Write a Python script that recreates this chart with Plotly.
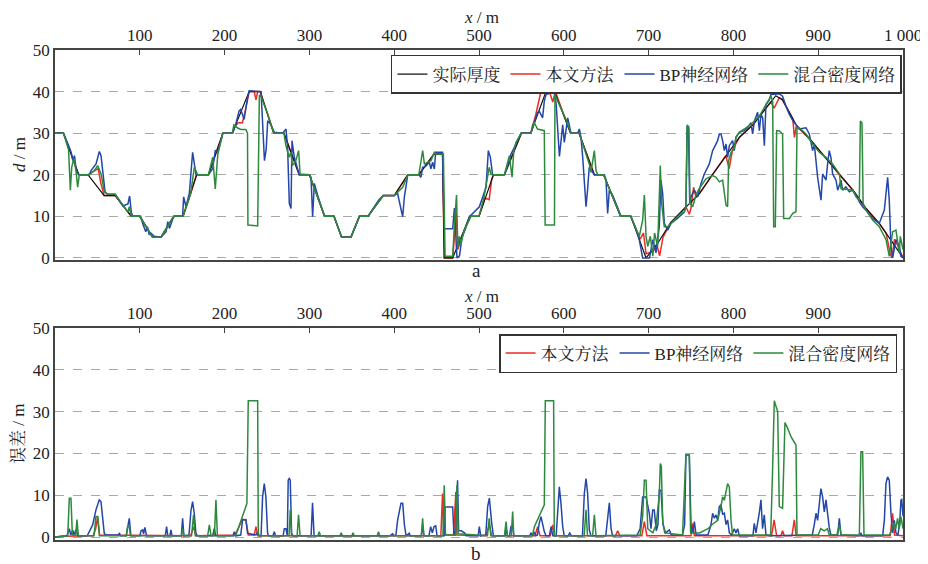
import plotly.graph_objects as go

# ---------------- data ----------------
act_x = [0,10,28,39,58,71,90,100,115,125,140,151,167,181,198,209,229,242,258,270,288,300,318,329,338,349,359,369,387,400,416,429,447,457,459,469,489,500,517,530,550,561,579,589,608,618,636,647,667,679,697,711,726,744,760,776,791,807,823,838,850,858,874,890,909,925,941,956,972,988,998,1000]
act_y = [30,30,20,20,15,15,10,10,5,5,10,10,20,20,30,30,40,40,30,30,20,20,10,10,5,5,10,10,15,15,20,20,25,25,0,0,10,10,20,20,30,30,40,40,30,30,20,20,10,10,0,3.6,8.5,12.3,15.5,20.2,24.6,29,32,36,39,38,32,28.6,24,20,16.3,12,8.3,3.6,0.4,0]

red_x = [0,10,28,39,51,54,58,71,90,100,115,125,140,151,160,167,181,198,209,212,216,221,224,229,235,237,239,242,258,270,288,300,318,329,338,349,359,369,387,400,416,429,447,457,459,469,471,473,475,479,489,500,507,512,515,517,530,550,561,567,573,583,587,590,608,618,636,647,667,679,690,694,697,705,710,713,717,726,744,748,750,753,756,760,776,791,795,799,807,823,838,844,848,854,857,870,872,874,878,890,909,925,941,956,972,980,985,987,990,995,1000]
red_y = [30,30,20,20,21.5,18,15,15,10,10,5,5,10,10,15.5,20,20,30,30,31.5,32.5,32.5,35,40,40,38,40,40,30,30,20,20,10,10,5,5,10,10,15,15,20,20,25,25,0,0,5,11,2,4.5,10,10,14.4,14,19,20,20,30,30,34.5,40,40,37.5,40,30,30,20,20,10,10,4.5,6,1,1.5,3,0.5,5,8.5,12.3,10.5,12,17,14.5,15.5,20.2,24.6,21.5,26,29,32,36,37.5,36,38.5,38.3,33.5,29,31.5,31,28.6,24,20,16.3,12,8.3,6,1,0,4.5,2.5,0]

bp_x = [0,10,16,19,21,23,25,28.7,40.5,42.5,48.4,52.3,54.3,57.4,59,62,71,80,86,88,90,91.6,101,103.4,107,109,111,113,117,125,131,133,135,139,141,150.5,151.7,154.5,158.4,162.3,164.3,166.3,181,186,189,192,198,209.5,213,217,219,223,227,229,243,245,247,249,250.8,254.7,258.6,268.4,272.4,274.3,276.3,278.3,279.5,282.2,286.1,288,300,301.9,303.8,305.8,309.7,313.6,317.6,329,338,349,359,369,382,387,400,404,408,410,412,416,429,431.5,433.5,437,441.4,443.3,445.3,447.3,449,457,459,469,471,474,477,480,484,489,500.4,504.4,508.3,511,513.4,516,530,533.8,537.8,541.7,549.6,561.3,565.3,569,571,575,577,579,589,591,594.8,598.7,600.6,604.6,608.5,616.4,618.3,620.3,622.3,624.2,626.2,628,630,634,636,647.8,649.8,651.7,653.7,657.6,663.5,667.5,679,685,689,693,701,705,708.7,712.6,714.6,716.6,718.5,722.5,726.4,734,742,744,745.5,747,748.5,750,754,757.9,761.8,765.7,771.6,775.5,777.5,781.4,783.4,785.4,787.3,789.3,791.3,793.2,795.2,799.1,801,803,807,812.9,816.8,820.7,822.7,824.7,828.6,830.6,832.5,834.5,836.5,838.4,842.4,844.3,854,858,862,866,870,877.7,885.6,889.5,893.4,895.4,899.3,901.3,903.3,905.2,909.2,911.1,913,915,917,921,923,926.9,928.8,932.7,936.7,940.6,944.5,948.5,952.4,956.3,964.2,972,978,981.9,983.8,985.8,987.8,991.7,995.6,997.6,1000]
bp_y = [30,30,27,25.4,23.4,24.6,21,20,20,21,22.6,25.6,24.6,19.4,15.9,15.3,15.3,12.5,13,14.9,11,10,10,8.3,6.3,7.5,5.6,6,5.2,5,6.3,8.7,7.1,9.5,10,10,14.7,12.3,15.5,25.4,22.6,20,20,21.5,25.8,25.5,30,30,32,35.3,35.7,33.3,38.4,40.2,40,30,23.4,26,33,32,30.2,30,31,26.6,13.1,11.9,28.2,24.2,21,20,20,19.4,9.9,17.9,15.1,12.3,10,10,5,5,10,10,14,15,15,15.5,11.5,9.9,14.7,20,20,19.4,21.8,22,23,21.4,23,21.4,25.4,25.4,7,7,12,0,0.5,5,7,10,12.3,14.7,17,25.8,24.2,20,20,22.2,25,26.6,30,30,32.9,35,35.3,33.7,37.7,39.3,40,37,24.4,32,27.8,33.7,30,30,31,29,24.2,18.7,12.3,16.3,21.8,20.6,20,20,18.7,10.7,16.3,15.1,12.3,10,10,7,4.4,0,0,4.4,1.2,7.5,18.7,15.5,8.3,6.7,8.3,9.5,11,12.3,31.7,31,13,14.7,16.3,14.7,17.9,20.2,22.6,25.8,26.6,28.2,29.8,29.8,28.2,25.8,27.4,24.2,27,28.2,25.8,29,30.2,30.6,31.3,32.5,29.8,32.9,35,30.6,34.5,33.7,27,36.9,38,39.3,39.5,38.9,36.5,34.5,33,31,31.3,29.8,25.8,27.4,19.4,16.3,13.9,20.2,18.7,22.6,25.8,24.2,20.2,18.7,16.3,18.7,16.3,17.1,15.9,16.3,15.1,13.5,12.3,11.5,9.5,8.3,11.5,19.4,13.9,2.8,0,4.4,2.8,0.4,0.3]

mdn_x = [0,10,16,17,18.1,19.7,22,24.8,26.7,28.7,40.5,46.4,50.3,54.3,58.2,62,71,86,87.6,90,100,115,125,140,151,160,164.3,168.2,181,186,189,192,198,209,211,215,219,225,227,227.5,239,241,243,251,258,270,272,276,278,280,284,287.3,289,300,318,329,338,349,359,369,387,400,410,416,429,433.6,435.6,443.4,447.3,449.4,457,458,460,469,471,473.5,475,476.8,478.7,482.6,486.6,490.5,500,506,512,514,516,530,533.8,535.8,539,541,543.7,549.6,561.3,563.3,565.3,569,577,578,589,589.6,592.8,602.6,608.5,618.3,630,632,636,638,640,647,667,679,689,693,695,697,699,702,705,707,710.7,712.6,713.8,715.4,718.5,722.5,730.3,738,742,744,745.5,747.5,748.8,752,755.9,759.8,767.7,775.5,779.5,783.4,787.3,789.3,791.3,793.2,794.4,797.2,801,803,807,814.8,822.7,830.6,838.4,844.3,846.3,847.5,849.4,851,854,858,859.3,866,870,873.8,875,877.7,885.6,893.4,901.3,909.2,917,925,926.9,940.6,944.5,948.5,949.7,951.6,953,956.3,964.2,972,980,983.8,987.8,991.7,995.6,996.8,1000]
mdn_y = [30,30,26,20.2,16.3,21.8,23.8,21,17,20,20,21,22.2,20.2,15.9,15.3,15.3,11,12.3,10,10,5,5,10,10,15.5,21.8,20,20,24.2,16.6,25,30,30,32,31.3,30.9,30.9,30,7.9,7.7,39.2,38.8,34.5,30,30,27.3,24.2,25.4,22.2,23.4,25.8,20.2,20,10,10,5,5,10,10,15,15,17,20,20,25.8,22.6,23.4,25.4,25,25,25,0.4,0.4,8,15.1,2.4,5.2,3.6,6.7,8.3,10,10,14.7,21.8,20.2,20,20,23,24.6,19.4,25.8,27.8,30,30,32,32.5,31,30.6,7.9,7.9,39.3,37.7,33.3,30,30,22.6,20.6,25.8,21,20,20,10,10,5.2,9.1,15.1,5.2,2.8,5.2,0.4,6,2.8,15.5,22.2,13.1,7.5,7.5,9.1,10.7,11,12.3,32,31.5,13.1,12.3,15.1,16.7,19,19.8,19.4,18.3,18.7,15.1,12.7,12.3,23.4,25.4,26.2,29,30.2,31.3,32.5,34.1,36.9,38.9,37.7,7.5,7.5,30.6,30.6,29.8,9.5,9.5,10.7,11.1,31.3,31.3,29.8,27.4,25.4,24.2,22.6,20.2,16.7,16.3,14.7,13.9,32.9,32.5,13.1,11.5,9.1,7.5,4.4,0.4,6.3,6.7,1.2,5.2,2]

# errors (bottom panel)
er_red_x = [0,10,45,48,50.3,52.5,160,163.4,166,212,216,221,225,228,235,237,239,455,457,458.5,470,472.7,474,508,512.2,515,566,569.2,572,584,586.9,589,661,663.5,666,692,695,698,750,752,754,845,848,851,856,858,860,869,871.8,874,985,987.7,990,1000]
er_red_y = [0,0.2,0.3,2,4.9,0.5,0.3,2.5,0.3,0.5,2,4.3,4,0.5,0.5,2.5,0.3,0.3,10.4,0.5,0.5,10.8,0.5,0.3,2.9,0.3,0.3,2.5,0.3,0.3,2.9,0.3,0.3,1.5,0.3,0.3,3.7,0.3,0.3,3.3,0.3,0.3,4.1,0.3,0.3,1.5,0.3,0.3,4.1,0.3,0.3,5.7,0.5,0.3]

er_bp_x = [0,14,16.9,18.5,20.8,22.5,24.7,27,38,40.4,44.4,48.3,52.2,54.2,56.2,58.1,60,75,76,77,84,85.6,87.6,89.5,100,101.5,103.3,104.5,106,108,130,131.6,133,135.5,136.7,138,149,150.5,152,158,160.3,162.3,164.2,166.2,168,186,187.8,189.5,210,211.4,213,219,221.2,225.2,227.1,237,239,241,243,244.8,246.8,248.7,250.7,252,257,258.6,260,269,270.4,272.3,273.5,274,275,276.2,277.4,279,281,302,303.7,305.5,395,398,400,402,404,408,410,412,414,417.7,419,432,433.5,435,441,443,445,447,449,450.5,459,460,469,470.5,472,474.7,476,479,483,485,499,500.4,502,508,510.2,512.2,515,517,530.5,531.9,533.5,536,537.7,539.7,541,560,561.3,563,565.3,567,569,571,573.1,577,579,583,585,587,591,592.8,594.7,596.7,598.7,600.5,605,607,609,622,624.2,626.2,628.1,630.1,632,649.5,651.7,653.7,655.7,657.5,686,690,693,697,700.8,702.8,704.8,706.7,709,711,712.6,714.6,717,720,724.4,727,740,742.5,744,748,750,752,754,756,770,773.6,775.5,777.5,779.4,781.4,783.4,785.3,787.3,789.3,791.3,793.2,795.2,798,801,803,805,807,823,824.6,826.6,828.6,830.5,832.5,834.4,836.4,838.4,843,893,895.4,897.4,899.3,901.3,903.2,905.2,907.2,909.2,911.1,913,915,923,924.9,926.9,948,950.4,952,976,978,979.9,981.8,983.8,985.8,987.7,989.7,991.7,994,996,997.6,998.5,1000]
er_bp_y = [0,0.3,2,0.5,1.7,0.5,1.8,0.3,0.3,1.3,2.9,6.5,8.9,8.5,4.9,0.9,0.5,0.5,1,0.3,0.3,2,4.5,0.3,0.3,1.5,1.7,0.8,2.3,0.3,0.3,2.5,0.3,0.3,1.7,0.3,0.3,4.5,0.3,0.5,6.3,8.5,5.7,0.9,0.3,0.3,2.1,0.3,0.3,1.3,0.3,0.5,4.1,4.2,0.9,0.5,1.2,0.3,0.3,9.6,12.8,9.6,0.9,0.3,0.3,1.3,0.3,0.3,2,2,0.3,0.3,13.6,14,13.6,0.9,0.3,0.3,8.2,0.3,0.3,0.8,0.3,0.5,4,8.1,8.1,3,0.3,0.9,0.3,0.3,2.9,0.3,0.3,2.5,1,2.5,2.7,0.3,0.3,7.2,7.2,0.5,0.5,13.6,1.5,1.5,1,0.3,0.3,2.5,0.3,0.5,7.3,9.3,3.3,0.3,0.3,2.1,0.3,0.3,2.5,2.5,0.3,0.3,1,0.3,1.2,0.3,0.5,3.3,4.9,1.3,0.3,0.3,2.5,0.3,0.3,7.3,12,8,2.5,0.3,0.3,1,0.3,0.3,10.4,14,10.4,1.7,0.3,0.3,4.1,8.2,2.1,0.3,0.3,2,9.6,9.6,5.7,2,6.5,6.5,1.5,3,11.2,11.2,3,1,1.7,0.5,0.5,3,19.6,19.6,3,1,3.7,0.5,0.5,3,5.7,4.5,5.3,4,7.3,7.7,5.5,5.7,3,4.1,1,0.5,2,1,2,0.3,0.3,3.3,1,3.3,5.7,8.9,2,5.3,0.5,0.3,0.5,3,5.7,4,8,11.6,9.6,6,8.9,5.7,2.3,0.5,0.5,4.5,0.5,0.3,0.9,0.3,0.3,4,12.8,14.4,13.6,5.7,1,4,1,0.5,3,8.9,9,5]

er_mdn_x = [0,15,16.9,18.8,20.5,24.5,25.9,27.5,46,48.3,50.3,52.5,84,85.6,87.6,89,149,150.5,152,161,163.4,165.5,180,182,184,188,189.8,191.5,211,213.4,226.3,227.9,239,239.7,241,276,277.4,279,285.5,287.2,289,310,311.6,313,336,337.5,339,350,351.5,353,380,381.5,383,432,433.5,435,457.5,459,460.5,472.5,474,475.5,510,512,514,530,531.9,533.5,538,539.7,541,563,565.3,577,578.2,588,588.8,624,626.2,628,634,636,638,690,693,695,697,699,705,709,711,712.6,713.8,715,716.6,719,740,744,748,749.5,760,770,775,781.4,785,787.3,789.3,791.5,793.2,795.2,797.2,799,844,846.2,848.2,852.2,854.1,858,860.8,864,867.9,873.8,875,900,903,907,911,913,922,924.9,927,948.5,950.4,952.4,954,984,987,989.7,991.5,993.6,995.5,997.6,1000]
er_mdn_y = [0,0.3,9.3,9.3,0.5,0.5,4.2,0.3,0.3,4.9,4.9,0.3,0.3,2.5,2.5,0.3,0.3,2,0.3,0.3,5.3,0.3,0.3,2.9,0.3,0.3,8.9,0.3,0.3,0.5,8,32.6,32.6,0.5,0.3,0.3,6.5,0.3,0.3,5.3,0.3,0.3,1.3,0.3,0.3,1,0.3,0.3,1,0.3,0.3,1.3,0.3,0.3,4.5,0.3,0.3,12.4,0.5,0.5,12.4,0.8,0.3,4.5,0.3,0.3,3.7,0.3,0.3,6.1,0.3,0.3,2.5,7.7,32.6,32.6,0.3,0.3,6.5,0.3,0.3,5.3,0.3,0.5,5,13.6,13.6,2,1,3,7,10,17.6,17,3.8,1,0.5,19.6,19.6,1,1,2,3,4,7,9.6,8.8,11.5,12.8,12,4,0.5,0.5,16,32.6,30,7.3,6.9,27.4,26,24,22,0.5,0.5,2,1.5,2,0.5,0.5,2.9,0.5,0.5,20.4,20.4,0.5,0.5,2,3.3,2,4.5,2,4.9,2]

top_ticks = [100, 200, 300, 400, 500, 600, 700, 800, 900, 1000]
top_tick_text = ["100", "200", "300", "400", "500", "600", "700", "800", "900", "1 000"]
bot_ticks = [100, 200, 300, 400, 500, 600, 700, 800, 900]
y_ticks = [0, 10, 20, 30, 40, 50]

names = ["实际厚度", "本文方法", "BP神经网络", "混合密度网络"]
colors = ["#111111", "#ee2b25", "#2347a8", "#2d8a3c"]

FONT = "Liberation Serif, 'Noto Serif CJK SC', 'Noto Sans CJK SC', serif"
TXT = "#222"

fig = go.Figure()
# drawing order: red under black, then BP, then MDN on top; legend order kept via legendrank
top_series = [(act_x, act_y), (red_x, red_y), (bp_x, bp_y), (mdn_x, mdn_y)]
widths = [1.2, 1.5, 1.5, 1.5]
draw_order = [1, 0, 2, 3]
for i in draw_order:
    xs, ys = top_series[i]
    fig.add_trace(go.Scatter(x=xs, y=ys, mode="lines", name=names[i],
                             line=dict(color=colors[i], width=widths[i]),
                             legendrank=100 + i,
                             xaxis="x", yaxis="y", legend="legend"))
bot_series = [(er_red_x, er_red_y), (er_bp_x, er_bp_y), (er_mdn_x, er_mdn_y)]
for k, ((xs, ys), nm, c) in enumerate(zip(bot_series, names[1:], colors[1:])):
    fig.add_trace(go.Scatter(x=xs, y=ys, mode="lines", name=nm,
                             line=dict(color=c, width=1.5), legendrank=200 + k,
                             xaxis="x2", yaxis="y2", legend="legend2"))

axis_common = dict(showline=True, linecolor="#444", linewidth=1.5, mirror=True,
                   tickfont=dict(size=17, color=TXT, family=FONT),
                   zeroline=False, automargin=False)
xcommon = dict(axis_common, range=[0, 1000], side="top", ticks="inside", ticklen=5,
               tickcolor="#444", showgrid=False)
ycommon = dict(axis_common, tickvals=y_ticks, ticks="", showgrid=True,
               gridcolor="#a8a8a8", griddash="dash", gridwidth=1)

legend_common = dict(orientation="h", xanchor="right", yanchor="top",
                     bgcolor="white", bordercolor="#333", borderwidth=1.5,
                     font=dict(size=17, family=FONT, color=TXT), itemwidth=30,
                     tracegroupgap=0, traceorder="normal")

def ann(text, px, py, size=17, angle=0):
    # position given in page pixels relative to the plot area, converted to paper fractions
    return dict(text=text, x=(px - 55) / 848, y=1 - (py - 50) / 490,
                xref="paper", yref="paper", showarrow=False, textangle=angle,
                xanchor="center", yanchor="middle",
                font=dict(size=size, family=FONT, color=TXT))

# the page body has an 8 px margin, so the figure is made 8 px smaller and
# its left/top margins reduced by 8 px to place the plot area like the reference
fig.update_layout(
    width=920, height=556,
    margin=dict(l=47, r=25, t=42, b=24),
    paper_bgcolor="white", plot_bgcolor="white",
    font=dict(family=FONT, size=17, color=TXT),
    xaxis=dict(xcommon, anchor="y", domain=[0, 1], tickvals=top_ticks, ticktext=top_tick_text),
    yaxis=dict(ycommon, domain=[0.5714, 1], range=[-0.5, 50]),
    xaxis2=dict(xcommon, anchor="y2", domain=[0, 1], tickvals=bot_ticks,
                ticktext=[str(v) for v in bot_ticks]),
    yaxis2=dict(ycommon, domain=[0, 0.4327], range=[-0.7, 50]),
    legend=dict(legend_common, x=0.9988, y=0.9898),
    legend2=dict(legend_common, x=0.993, y=0.4204),
    showlegend=True,
    annotations=[
        ann("<i>x</i> / m", 481, 17),
        ann("<i>x</i> / m", 481, 296),
        ann("<i>d</i> / m", 19, 155, angle=-90),
        ann("误差 / m", 18, 434, angle=-90),
        ann("a", 476, 270, size=19),
        ann("b", 476, 553, size=19),
    ],
)

fig.write_html("out.html")
